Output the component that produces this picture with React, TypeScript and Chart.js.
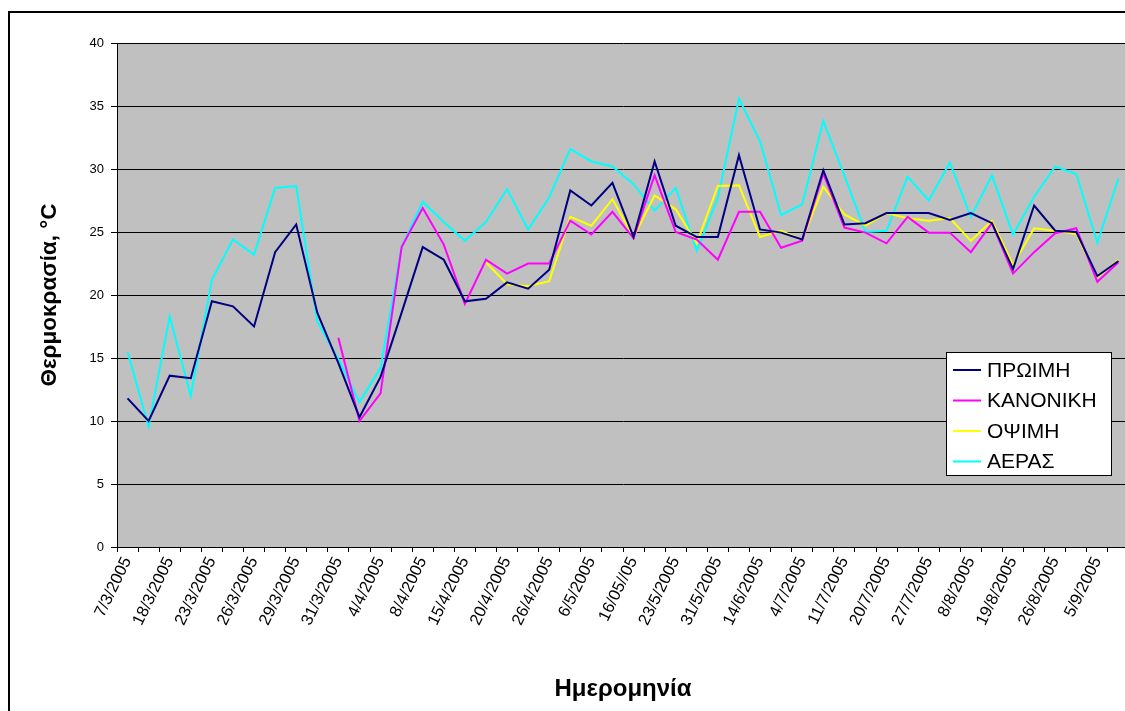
import React, { useEffect, useRef } from 'react';
import { Chart, registerables } from 'chart.js';

Chart.register(...registerables);

// Labelled dates (every second category carries a label)
const dateLabels = [
  '7/3/2005', '18/3/2005', '23/3/2005', '26/3/2005', '29/3/2005', '31/3/2005',
  '4/4/2005', '8/4/2005', '15/4/2005', '20/4/2005', '26/4/2005', '6/5/2005',
  '16/05//05', '23/5/2005', '31/5/2005', '14/6/2005', '4/7/2005', '11/7/2005',
  '20/7/2005', '27/7/2005', '8/8/2005', '19/8/2005', '26/8/2005', '5/9/2005',
];
const categories = dateLabels.flatMap((d) => [d, '']);

const yTicks = [0, 5, 10, 15, 20, 25, 30, 35, 40];

const seriesNames = ['ΠΡΩΙΜΗ', 'ΚΑΝΟΝΙΚΗ', 'ΟΨΙΜΗ', 'ΑΕΡΑΣ'];
const seriesColors = ['#000080', '#FF00FF', '#FFFF00', '#00FFFF'];

const proimi = [
  11.8, 10.0, 13.6, 13.4, 19.5, 19.1, 17.5, 23.4, 25.6, 18.6,
  14.6, 10.3, 13.5, 18.6, 23.8, 22.8, 19.5, 19.7, 21.0, 20.5,
  22.0, 28.3, 27.1, 28.9, 24.6, 30.6, 25.5, 24.6, 24.6, 31.1,
  25.2, 24.95, 24.4, 29.9, 25.6, 25.7, 26.5, 26.5, 26.5, 25.95,
  26.5, 25.7, 22.06, 27.1, 25.1, 25.0, 21.5, 22.7,
];
const kanoniki = [
  null, null, null, null, null, null, null, null, null, null,
  16.6, 10.0, 12.2, 23.8, 26.9, 24.0, 19.3, 22.8, 21.7, 22.5,
  22.5, 25.9, 24.8, 26.6, 24.5, 29.5, 25.0, 24.4, 22.8, 26.6,
  26.6, 23.75, 24.3, 29.65, 25.35, 24.95, 24.1, 26.2, 24.95, 24.95,
  23.4, 25.7, 21.7, 23.4, 24.9, 25.3, 21.05, 22.6,
];
const opsimi = [
  null, null, null, null, null, null, null, null, null, null,
  null, null, null, null, null, null, null, 22.6, 20.85, 20.7,
  21.1, 26.2, 25.5, 27.6, 24.6, 27.9, 26.8, 24.1, 28.65, 28.7,
  24.6, 25.1, 24.4, 28.6, 26.4, 25.5, 26.5, 26.1, 25.9, 26.1,
  24.3, 25.9, 22.4, 25.3, 25.1, 24.85, 21.4, 22.8,
];
const aeras = [
  15.5, 9.55, 18.3, 12.0, 21.2, 24.4, 23.2, 28.5, 28.65, 17.9,
  14.9, 11.5, 14.2, 23.8, 27.4, 25.8, 24.3, 25.8, 28.4, 25.2,
  27.75, 31.6, 30.6, 30.2, 28.8, 26.7, 28.5, 23.5, 27.7, 35.6,
  32.2, 26.35, 27.2, 33.8, 29.5, 25.0, 25.1, 29.4, 27.5, 30.5,
  26.2, 29.5, 24.8, 27.8, 30.2, 29.6, 24.15, 29.25,
];

const seriesValues = [proimi, kanoniki, opsimi, aeras];

const FONT = "'Liberation Sans', Arial, Helvetica, sans-serif";

const plotBackground = {
  id: 'plotBackground',
  beforeDraw(chart: any) {
    const { ctx, chartArea } = chart;
    ctx.save();
    ctx.fillStyle = '#C0C0C0';
    ctx.fillRect(chartArea.left, chartArea.top, chartArea.right - chartArea.left, chartArea.bottom - chartArea.top);
    ctx.restore();
  },
};

const boxLegend = {
  id: 'boxLegend',
  afterDatasetsDraw(chart: any) {
    const { ctx, chartArea } = chart;
    const x = chartArea.right - 183;
    const y = chartArea.top + 309;
    const w = 165;
    const h = 123;
    ctx.save();
    ctx.fillStyle = '#FFFFFF';
    ctx.fillRect(x, y, w, h);
    ctx.strokeStyle = '#000000';
    ctx.lineWidth = 1;
    ctx.strokeRect(x + 0.5, y + 0.5, w, h);
    ctx.font = `21px ${FONT}`;
    ctx.textBaseline = 'middle';
    ctx.textAlign = 'left';
    chart.data.datasets.forEach((ds: any, i: number) => {
      const cy = y + 18 + i * 30.5;
      ctx.strokeStyle = ds.borderColor;
      ctx.lineWidth = 2;
      ctx.beginPath();
      ctx.moveTo(x + 7, cy);
      ctx.lineTo(x + 35, cy);
      ctx.stroke();
      ctx.fillStyle = '#000000';
      ctx.fillText(ds.label, x + 41, cy + 1);
    });
    ctx.restore();
  },
};

export default function App() {
  const canvasRef = useRef<HTMLCanvasElement | null>(null);

  useEffect(() => {
    const canvas = canvasRef.current;
    if (!canvas) return;
    const chart = new Chart(canvas, {
      type: 'line',
      data: {
        labels: categories,
        datasets: seriesNames.map((name, i) => ({
          label: name,
          data: seriesValues[i],
          borderColor: seriesColors[i],
          backgroundColor: seriesColors[i],
          borderWidth: 2,
          pointRadius: 0,
          tension: 0,
          fill: false,
          spanGaps: false,
        })),
      },
      options: {
        responsive: false,
        animation: false,
        events: [],
        layout: { padding: { left: 0, top: 43, right: 11, bottom: 0 } },
        plugins: {
          legend: { display: false },
          tooltip: { enabled: false },
          title: { display: false },
        },
        scales: {
          x: {
            type: 'category',
            offset: true,
            border: { display: true, color: '#000000', width: 1 },
            grid: {
              display: true,
              offset: true,
              drawOnChartArea: false,
              drawTicks: true,
              tickLength: 5,
              color: '#000000',
              lineWidth: 1,
            },
            ticks: {
              autoSkip: false,
              minRotation: 64,
              maxRotation: 64,
              padding: 2,
              color: '#000000',
              font: { family: FONT, size: 16.5 },
            },
            title: {
              display: true,
              text: 'Ημερομηνία',
              color: '#000000',
              font: { family: FONT, size: 24, weight: 'bold' },
              padding: { top: 0, bottom: 7 },
            },
            afterFit(scale: any) {
              scale.height = 164;
            },
          },
          y: {
            min: 0,
            max: 40,
            afterBuildTicks(scale: any) {
              scale.ticks = yTicks.map((v) => ({ value: v }));
            },
            border: { display: true, color: '#000000', width: 1 },
            grid: {
              display: true,
              drawOnChartArea: true,
              drawTicks: true,
              tickLength: 6,
              color: '#000000',
              lineWidth: 1,
            },
            ticks: {
              padding: 7,
              color: '#000000',
              font: { family: FONT, size: 13 },
            },
            title: {
              display: true,
              text: 'Θερμοκρασία, °C',
              color: '#000000',
              font: { family: FONT, size: 22.5, weight: 'bold' },
              padding: { top: 36, bottom: 0 },
            },
            afterFit(scale: any) {
              scale.width = 117;
            },
          },
        },
      },
      plugins: [plotBackground, boxLegend],
    } as any);
    return () => chart.destroy();
  }, []);

  return (
    <div
      style={{
        position: 'fixed',
        left: 0,
        top: 0,
        width: 1125,
        height: 711,
        overflow: 'hidden',
        background: '#FFFFFF',
      }}
    >
      <div
        style={{
          position: 'absolute',
          left: 8,
          top: 11,
          width: 1200,
          height: 800,
          borderLeft: '2px solid #000',
          borderTop: '2px solid #000',
          boxSizing: 'border-box',
        }}
      />
      <canvas
        ref={canvasRef}
        width={1140}
        height={711}
        style={{ position: 'absolute', left: 0, top: 0, width: 1140, height: 711 }}
      />
    </div>
  );
}
